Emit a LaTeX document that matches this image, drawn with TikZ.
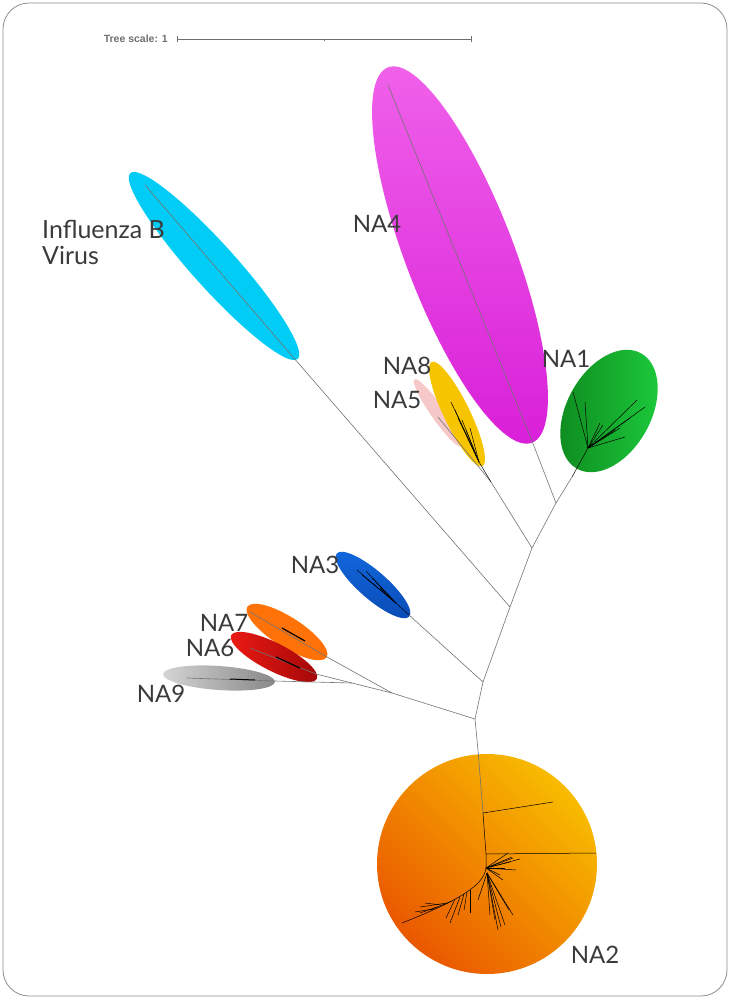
\documentclass[tikz,border=0pt]{standalone}
\usepackage{fontspec}
\setmainfont{Lato}
\newfontfamily\scalefont{Liberation Sans}
\usepackage{tikz}
\usetikzlibrary{shapes.geometric}

\definecolor{labelgray}{HTML}{3A3A3A}
\definecolor{scalegray}{HTML}{6E6E6E}
\definecolor{flub}{HTML}{00CCF5}
\definecolor{magtop}{HTML}{F062EA}
\definecolor{magbot}{HTML}{D81ED8}
\definecolor{goldna}{HTML}{F7C400}
\definecolor{pinkna}{HTML}{F7C8C8}
\definecolor{greenlt}{HTML}{1CCB3C}
\definecolor{greendk}{HTML}{0E8A1E}
\definecolor{bluetop}{HTML}{1168DE}
\definecolor{bluebot}{HTML}{0A4AB4}
\definecolor{orangena}{HTML}{FF7208}
\definecolor{redlt}{HTML}{EC1A14}
\definecolor{reddk}{HTML}{A20808}
\definecolor{greylt}{HTML}{D4D4D4}
\definecolor{greydk}{HTML}{888888}
\definecolor{ambertop}{HTML}{F8BC00}
\definecolor{amberbot}{HTML}{EA5800}

\begin{document}
\begin{tikzpicture}[x=1pt,y=-1pt,
  clade/.style={ellipse, inner sep=0pt, draw=none},
  branch/.style={draw=black!55, line width=0.6pt},
  bush/.style={draw=black, line width=0.5pt},
  lbl/.style={text=labelgray, font=\fontsize{24}{25}\selectfont, inner sep=0pt}]
\useasboundingbox (0,0) rectangle (730,999);
\draw[black!45, line width=0.8pt, rounded corners=26pt] (3,3) rectangle (727,996);

% tree scale
\node[text=scalegray, font=\scalefont\bfseries\fontsize{10.5}{11}\selectfont, anchor=east, inner sep=0pt] (scl) at (168,39) {Tree scale: 1};
\coordinate (s0) at (177,39);
\coordinate (s1) at (471,39);
\coordinate (sm) at (324,39);
\draw[scalegray, line width=0.7pt] (s0) -- (s1);
\draw[scalegray, line width=0.7pt] ([yshift=-3pt]s0) -- ([yshift=3pt]s0);
\draw[scalegray, line width=0.7pt] ([yshift=-3pt]s1) -- ([yshift=3pt]s1);
\draw[scalegray, line width=0.7pt] (sm) -- ([yshift=-2pt]sm);

% clades
\node[clade, fill=flub, minimum width=250pt, minimum height=44pt, rotate=-48] (infb) at (214,266) {};
\node[clade, top color=magtop, bottom color=magbot, minimum width=402pt, minimum height=108pt, rotate=-69] (na4) at (460,255) {};
\node[clade, fill=pinkna, minimum width=82pt, minimum height=14pt, rotate=-55] (na5) at (438,413) {};
\node[clade, fill=goldna, minimum width=116pt, minimum height=26pt, rotate=-64] (na8) at (457,414) {};
\node[clade, left color=greendk, right color=greenlt, minimum width=132pt, minimum height=84pt, rotate=61] (na1) at (609,411) {};
\node[clade, top color=bluetop, bottom color=bluebot, minimum width=96pt, minimum height=28pt, rotate=-41] (na3) at (373,585) {};
\node[clade, fill=orangena, minimum width=94pt, minimum height=30pt, rotate=-32.5] (na7) at (287,632) {};
\node[clade, left color=redlt, right color=reddk, minimum width=96pt, minimum height=28pt, rotate=-27] (na6) at (274,657) {};
\node[clade, left color=greylt, right color=greydk, minimum width=112pt, minimum height=24pt, rotate=-4] (na9) at (219,678) {};
\node[circle, inner sep=0pt, minimum size=220pt, top color=ambertop, bottom color=amberbot, shading angle=-45] (na2) at (487,864) {};

% inner nodes of the tree
\coordinate (jA) at (556,503);
\coordinate (jB) at (532,548);
\coordinate (jC) at (510,607);
\coordinate (jD) at (483,682);
\coordinate (jE) at (475,719);
\coordinate (jF) at (392,693);
\coordinate (jG) at (352,683);
\coordinate (jH) at (491,482);

% tips
\coordinate (tinfb) at (145,185);
\coordinate (binfb) at (293,357);
\coordinate (tna4) at (388,85);
\coordinate (bna4) at (532,441);
\coordinate (bna1) at (572,477);
\coordinate (cna1) at (588,448);
\coordinate (tna5) at (438,417);
\coordinate (cna8) at (479,462);
\coordinate (bna3) at (409,615);
\coordinate (cna3) at (396,603);
\coordinate (tna7) at (250,612);
\coordinate (bna7) at (327,657);
\coordinate (tna6) at (250,648);
\coordinate (bna6) at (316,674);
\coordinate (tna9) at (187,678);
\coordinate (bna9) at (275,681);
\coordinate (s2a) at (478,750);
\coordinate (s2b) at (483,813);
\coordinate (s2c) at (486,854);
\coordinate (s2d) at (486,868);

% branches
\draw[branch] (jE) -- (jD) -- (jC) -- (jB) -- (jA);
\draw[branch] (jA) -- (bna4) -- (tna4);
\draw[branch] (jA) -- (bna1);
\draw[branch] (jB) -- (jH);
\draw[branch] (jH) -- (tna5);
\draw[branch] (jC) -- (binfb) -- (tinfb);
\draw[branch] (jD) -- (bna3);
\draw[branch] (jE) -- (jF);
\draw[branch] (jF) -- (bna7) -- (tna7);
\draw[branch] (jF) -- (jG);
\draw[branch] (jG) -- (bna6) -- (tna6);
\draw[branch] (jG) -- (bna9) -- (tna9);
\draw[branch] (jE) -- (s2a) -- (s2b);

% bushes
\draw[bush] (bna1) -- (cna1);
\foreach \x/\y in {573/392,585/402,645/407,637/400,625/437,603/425,600/423,615/430,630/418,620/428}
  \draw[bush] (cna1) -- (\x,\y);
\draw[bush] (jH) -- (cna8);
\foreach \x/\y in {451/402,455/410,462/420,466/430,470/428,458/418}
  \draw[bush] (cna8) -- (\x,\y);
\draw[bush] (bna3) -- (cna3);
\foreach \x/\y in {357/570,362/575,372/578,380/588,366/571}
  \draw[bush] (cna3) -- (\x,\y);
\draw[bush, line width=1.2pt] (305,641) -- (282,628);
\draw[bush, line width=1.2pt] (300,668) -- (276,657);
\draw[bush, line width=1pt] (255,680) -- (230,679);

\draw[bush] (s2b) -- (553,802);
\draw[bush] (s2b) -- (s2c) -- (s2d) .. controls (484,885) and (460,900) .. (402,923);
\draw[bush] (s2c) -- (596,853);
\foreach \x/\y in {512/857,510/862,505/868,516/870,500/875,503/880,513/858,520/859,508/853}
  \draw[bush] (s2d) -- (\x,\y);
\coordinate (s2e) at (487,873);
\foreach \x/\y in {498/930,513/915,505/925,478/900,495/920,509/910,501/927,490/915}
  \draw[bush] (s2e) -- (\x,\y);
\foreach \a/\b/\x/\y in {470/890/470/913, 460/897/450/923, 447/903/420/907, 437/907/420/913, 455/899/446/918, 441/905/425/903, 464/894/458/915, 452/901/430/910, 433/909/415/912, 467/892/464/910}
  \draw[bush] (\a,\b) -- (\x,\y);

% labels
\node[lbl, align=left, anchor=north west, font=\fontsize{25}{26}\selectfont] (linfb) at (42,220) {Influenza B\\Virus};
\node[lbl] (lna4) at (377,224) {NA4};
\node[lbl] (lna8) at (407,366) {NA8};
\node[lbl] (lna5) at (397,400) {NA5};
\node[lbl] (lna1) at (566,359) {NA1};
\node[lbl] (lna3) at (315,565) {NA3};
\node[lbl] (lna7) at (224,623) {NA7};
\node[lbl] (lna6) at (210,648) {NA6};
\node[lbl] (lna9) at (161,694) {NA9};
\node[lbl] (lna2) at (595,955) {NA2};
\end{tikzpicture}
\end{document}
